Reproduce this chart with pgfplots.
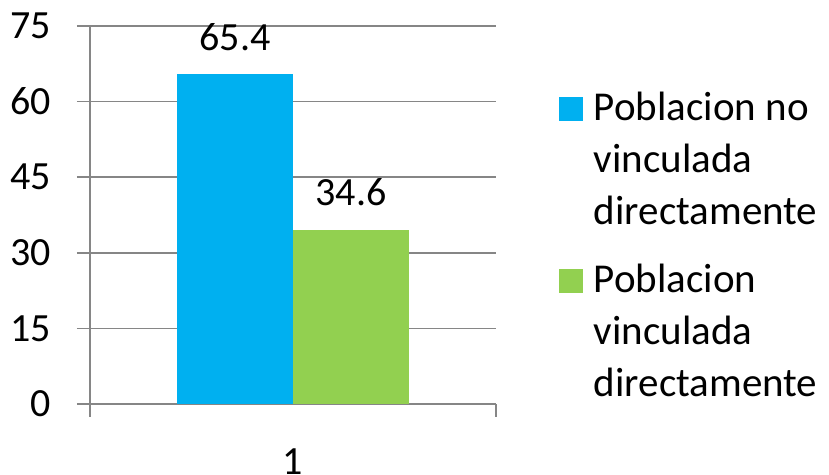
\documentclass[border=0pt]{standalone}
\usepackage{fontspec}
\setmainfont{Carlito}
\usepackage{pgfplots}
\pgfplotsset{compat=1.18}
\definecolor{cblue}{HTML}{00B0F0}
\definecolor{cgreen}{HTML}{92D050}
\definecolor{cgrid}{HTML}{868686}
\begin{document}
\begin{tikzpicture}
\useasboundingbox (0,0) rectangle (414.5pt,237.5pt);
\begin{axis}[
  at={(45pt,35.5pt)}, anchor=south west,
  scale only axis, width=203pt, height=189pt,
  xmin=0.5, xmax=1.5, ymin=0, ymax=75,
  ybar=0pt, bar width=58pt,
  /pgf/number format/assume math mode=true,
  axis lines*=left,
  axis line style={cgrid, line width=0.8pt},
  tick style={cgrid, line width=0.8pt},
  tick align=outside,
  major tick length=6.5pt,
  ytick={0,15,30,45,60,75},
  ymajorgrids, grid style={cgrid, line width=0.8pt},
  xtick={0.5,1.5}, xticklabels={,},
  extra x ticks={1}, extra x tick labels={1},
  extra x tick style={major tick length=0pt, grid=none,
     xticklabel style={anchor=north, inner sep=0pt, yshift=-22pt}},
  tick label style={font=\fontsize{20}{24}\selectfont},
  yticklabel style={anchor=east, inner sep=0pt, xshift=-13pt},
  nodes near coords,
  every node near coord/.append style={font=\fontsize{20}{24}\selectfont, inner sep=0pt, anchor=south, yshift=11.5pt, black},
  legend style={draw=none, fill=none, at={(1.154,0.8254)}, anchor=north west, inner sep=0pt,
     font=\fontsize{20.5}{26}\selectfont, nodes={align=left, inner sep=0pt},
     column sep=5.5pt, row sep=18pt},
  legend cell align=left,
  legend image code/.code={\path[draw=none, fill=none] (0pt,-0.5pt) rectangle (12pt,11.5pt);
     \fill[#1, overlay] (0pt,19.5pt) rectangle (12pt,31.5pt);},
]
\addplot[fill=cblue, draw=none] coordinates {(1,65.4)};
\addlegendentry{Poblacion no\\vinculada\\directamente}
\addplot[fill=cgreen, draw=none] coordinates {(1,34.6)};
\addlegendentry{Poblacion\\vinculada\\directamente}
\end{axis}
\end{tikzpicture}
\end{document}
